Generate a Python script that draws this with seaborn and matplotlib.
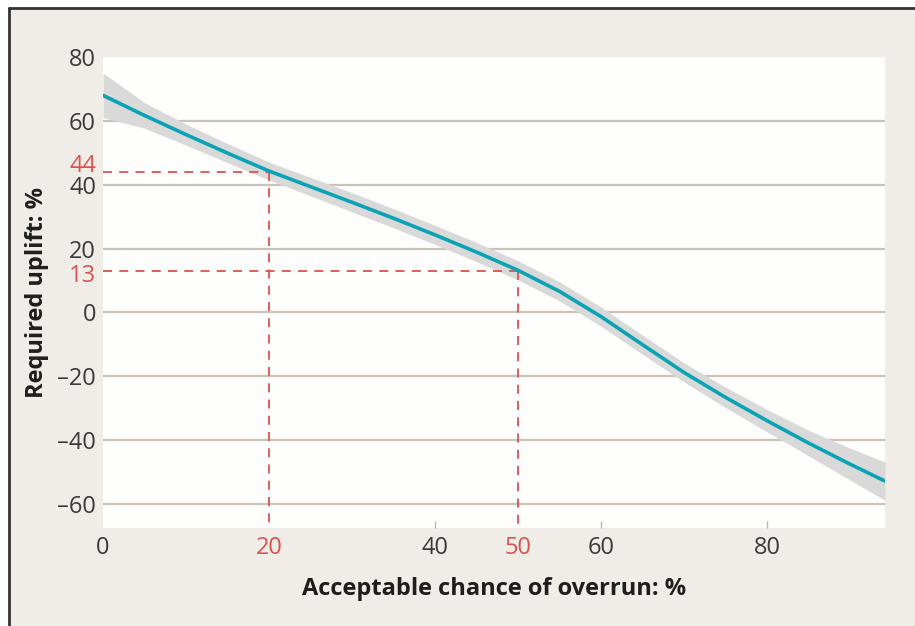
import matplotlib
matplotlib.use("Agg")
import matplotlib.pyplot as plt
from matplotlib.lines import Line2D
from matplotlib.transforms import ScaledTranslation
import seaborn as sns
import pandas as pd

# Fitted curve: required uplift vs acceptable chance of overrun
chance = [0, 5, 10, 15, 20, 25, 30, 35, 40, 45, 50, 55, 60, 65, 70, 75, 80, 85, 90, 94.2]
uplift = [68, 61.7, 55.7, 49.9, 44.3, 39.4, 34.5, 29.5, 24.3, 18.9, 13.2, 6.6, -1.3,
          -10.1, -18.8, -26.6, -33.9, -40.9, -47.5, -52.8]
band_lo = [61, 57.7, 52.4, 46.9, 41.5, 36.5, 31.5, 26.5, 21.3, 15.9, 10.2, 3.6, -4.3,
           -13.1, -21.8, -29.8, -37.4, -44.9, -52.5, -58.8]
band_hi = [75, 65.7, 59.0, 52.9, 47.1, 42.3, 37.5, 32.5, 27.3, 21.9, 16.2, 9.6, 1.7,
           -7.1, -15.8, -23.4, -30.4, -36.9, -42.5, -46.8]

# Highlighted readings
mark_x = [20, 50]
mark_y = [44, 13]

y_ticks = [-60, -40, -20, 0, 20, 40, 60, 80]
x_ticks = [0, 20, 40, 50, 60, 80]

BG = "#f0ede8"
TEXT = "#3a3a3a"
RED = "#d9534f"
TEAL = "#0aa3b5"
GRID = "#c9c3bb"

sns.set_theme(style="white")
plt.rcParams["font.family"] = ["Open Sans", "DejaVu Sans"]

fig = plt.figure(figsize=(9.15, 6.26), dpi=100, facecolor=BG)
ax = fig.add_axes([0.1126, 0.1565, 0.8546, 0.7524])
ax.set_facecolor("#fefefc")

df = pd.DataFrame({"chance": chance, "uplift": uplift, "lo": band_lo, "hi": band_hi})

ax.fill_between(df["chance"], df["lo"], df["hi"], color="#d9d9d9", lw=0, zorder=2)
sns.lineplot(data=df, x="chance", y="uplift", ax=ax, color=TEAL, lw=2.6, zorder=4)

# Horizontal grid lines
for v in y_ticks:
    if v != 80:
        ax.axhline(v, color=GRID, lw=1.6, zorder=1)

ax.set_xlim(0, 94.2)
ax.set_ylim(-67.5, 80)

# Dashed guide lines to the highlighted readings
for mx, my in zip(mark_x, mark_y):
    ax.plot([0, mx], [my, my], color=RED, lw=1.3, ls=(0, (5, 4)), zorder=3)
    ax.plot([mx, mx], [my, -67.5], color=RED, lw=1.3, ls=(0, (5, 4)), zorder=3)

def fmt(v):
    return ("\u2013" + str(abs(v))) if v < 0 else str(v)

# Small vertical nudges (in pixels) so close labels sit clear of each other
nudge = {44: 9, 13: -2}

yt = sorted(y_ticks + mark_y)
ax.set_yticks(yt)
ax.set_yticklabels([fmt(v) for v in yt])
ax.tick_params(axis="y", length=0, pad=5, labelsize=17)
for lab, v in zip(ax.get_yticklabels(), yt):
    lab.set_color(RED if v in mark_y else TEXT)
    if v in nudge:
        lab.set_transform(lab.get_transform()
                          + ScaledTranslation(0, nudge[v] / 100, fig.dpi_scale_trans))

ax.set_xticks(x_ticks)
ax.set_xticklabels([fmt(v) for v in x_ticks])
for lab, v in zip(ax.get_xticklabels(), x_ticks):
    lab.set_color(RED if v in mark_x else TEXT)

ax.tick_params(axis="x", direction="in", length=5, width=1, color="#bdb7af",
               pad=6, labelsize=17, bottom=True)
for t, v in zip(ax.xaxis.get_major_ticks(), x_ticks):
    if v in mark_x or v == 0:
        t.tick1line.set_visible(False)

for s in ax.spines.values():
    s.set_visible(False)

ax.set_xlabel("Acceptable chance of overrun: %", fontsize=17, fontweight="bold",
              color="#1e1e1e", labelpad=12)
ax.set_ylabel("Required uplift: %", fontsize=17, fontweight="bold",
              color="#1e1e1e", labelpad=6)

# Frame lines along the top and left of the figure
fig.patches.append(plt.Rectangle((0, 1 - 8 / 626), 1, 8 / 626, transform=fig.transFigure,
                                 color="white", zorder=-1))
fig.patches.append(plt.Rectangle((0, 0), 9 / 915, 1, transform=fig.transFigure,
                                 color="white", zorder=-1))
fig.add_artist(Line2D([9 / 915, 1], [1 - 8 / 626, 1 - 8 / 626], color="#333333", lw=2,
                      transform=fig.transFigure))
fig.add_artist(Line2D([9 / 915, 9 / 915], [0, 1 - 8 / 626], color="#333333", lw=2,
                      transform=fig.transFigure))

fig.savefig("out.png", dpi=100, facecolor=BG)
